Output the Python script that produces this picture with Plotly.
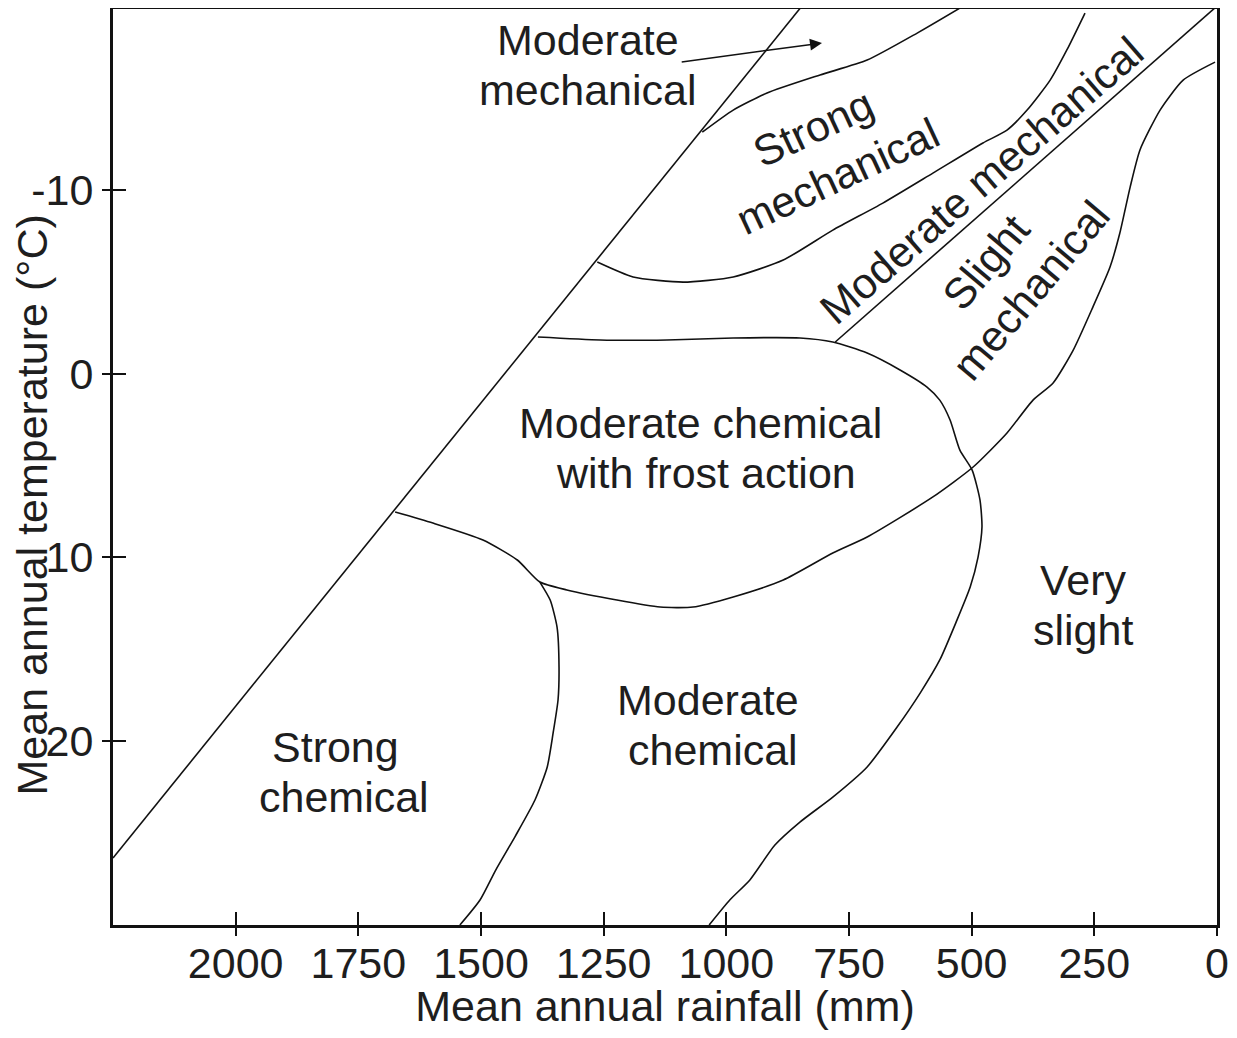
import plotly.graph_objects as go

# ---- data (rainfall mm, temperature °C) ----
diag_rain = [2250, 846]
diag_temp = [26.35, -20.0]

mm_slight_rain = [778, 0]
mm_slight_temp = [-1.72, -20.0]

strong_mech_top_rain = [1049, 986, 917, 809, 713, 611, 524]
strong_mech_top_temp = [-13.14, -14.34, -15.27, -16.25, -17.06, -18.53, -19.89]

strong_mech_bot_rain = [1263, 1190, 1088, 986, 884, 783, 681, 579, 477, 428, 387, 340, 306, 269]
strong_mech_bot_temp = [-6.07, -5.26, -4.98, -5.26, -6.18, -7.81, -9.28, -10.91, -12.55, -13.25, -14.34, -15.97, -17.61, -19.62]

lower_curve_rain = [1675, 1598, 1496, 1426, 1380, 1325, 1223, 1135, 1068, 986, 884, 783, 713,
                    579, 497, 428, 375, 334, 293, 253, 218, 198, 177, 157, 116, 69, 4]
lower_curve_temp = [7.53, 8.13, 9.05, 10.14, 11.34, 11.77, 12.32, 12.70, 12.70, 12.15, 11.23, 9.76, 8.89,
                    6.71, 5.08, 3.23, 1.44, 0.51, -1.28, -3.62, -5.80, -7.65, -10.15, -12.17, -14.34, -15.97, -16.95]

frost_rain = [1384, 1257, 1121, 986, 850, 783, 713, 646, 591, 565, 544, 524, 499, 483, 479, 487, 503,
              530, 565, 605, 652, 713, 783, 850, 901, 952, 993, 1035]
frost_temp = [-1.99, -1.83, -1.83, -1.94, -1.94, -1.72, -1.12, -0.20, 0.73, 1.44, 2.52, 4.16, 5.25, 6.88,
              8.35, 9.98, 11.61, 13.41, 15.58, 17.38, 19.23, 21.40, 23.04, 24.40, 25.65, 27.55, 28.64, 30.0]

chem_rain = [1380, 1359, 1345, 1341, 1343, 1353, 1365, 1390, 1430, 1470, 1502, 1543]
chem_temp = [11.34, 12.32, 13.79, 15.96, 17.76, 19.55, 21.40, 23.20, 25.16, 27.01, 28.64, 30.0]

curves = [
    (diag_rain, diag_temp),
    (mm_slight_rain, mm_slight_temp),
    (strong_mech_top_rain, strong_mech_top_temp),
    (strong_mech_bot_rain, strong_mech_bot_temp),
    (lower_curve_rain, lower_curve_temp),
    (frost_rain, frost_temp),
    (chem_rain, chem_temp),
]

x_ticks = [2000, 1750, 1500, 1250, 1000, 750, 500, 250, 0]
x_ticktext = ["2000", "1750", "1500", "1250", "1000", "750", "500", "250", "0"]
y_ticks = [-10, 0, 10, 20]
y_ticktext = ["-10", "0", "10", "20"]

x_title = "Mean annual rainfall (mm)"
y_title = "Mean annual temperature (°C)"

# one entry per text line
labels = ["Moderate", "mechanical",
          "Strong", "mechanical",
          "Moderate mechanical",
          "Slight", "mechanical",
          "Moderate chemical", "with frost action",
          "Very", "slight",
          "Moderate", "chemical",
          "Strong", "chemical"]
label_rain = [1282, 1282, 823, 772, 479, 471, 379, 1052, 1041, 273, 273, 1037, 1027, 1797, 1779]
label_temp = [-18.15, -15.43, -13.36, -10.75, -10.53, -6.07, -4.55, 2.69, 5.41, 11.23, 13.95,
              17.76, 20.48, 20.32, 23.04]
label_angle = [0, 0, -25, -25, -41, -50, -50, 0, 0, 0, 0, 0, 0, 0, 0]

arrow_tail = (1094, -16.95)
arrow_head = (805, -17.99)

FONT = "Liberation Sans, Arial, sans-serif"
TXT = "#1e1e1e"
FS = 43

fig = go.Figure()
for xs, ys in curves:
    fig.add_trace(go.Scatter(x=xs, y=ys, mode="lines",
                             line=dict(color="#111111", width=1.6, shape="spline", smoothing=0.6),
                             hoverinfo="skip", showlegend=False))
# invisible trace so the overlay axes (inside tick marks) are drawn
fig.add_trace(go.Scatter(x=[0], y=[0], xaxis="x2", yaxis="y2", mode="markers",
                         marker=dict(opacity=0), hoverinfo="skip", showlegend=False))

for t, xr, yt, ang in zip(labels, label_rain, label_temp, label_angle):
    fig.add_annotation(x=xr, y=yt, text=t, showarrow=False, textangle=ang,
                       font=dict(family=FONT, size=FS, color=TXT))

fig.add_annotation(x=arrow_head[0], y=arrow_head[1], ax=arrow_tail[0], ay=arrow_tail[1],
                   xref="x", yref="y", axref="x", ayref="y", text="", showarrow=True,
                   arrowhead=2, arrowsize=1.6, arrowwidth=1.5, arrowcolor="#111111")

# y-axis title (placed as an annotation to sit slightly below the plot centre, as in the original)
fig.add_annotation(x=0, y=0.458, xref="paper", yref="paper", xshift=-81, text=y_title,
                   showarrow=False, textangle=-90, xanchor="center", yanchor="middle",
                   borderpad=0, font=dict(family=FONT, size=FS, color=TXT))

XR = [2250, 0]
YR = [30, -19.84]

fig.update_layout(
    width=1221, height=1022,
    margin=dict(l=105, r=12, t=1, b=105, autoexpand=False),
    paper_bgcolor="white", plot_bgcolor="white",
    font=dict(family=FONT, size=FS, color=TXT),
    xaxis=dict(range=XR, tickvals=x_ticks, ticktext=x_ticktext, ticks="outside", ticklen=8, tickwidth=1.5,
               tickcolor="#111111", showgrid=False, zeroline=False, showline=True, mirror=True,
               linecolor="#111111", linewidth=3, tickfont=dict(size=FS), automargin=False,
               ticklabelstandoff=-10,
               title=dict(text=x_title, font=dict(size=FS), standoff=7)),
    yaxis=dict(range=YR, tickvals=y_ticks, ticktext=y_ticktext, ticks="outside", ticklen=8, tickwidth=1.5,
               tickcolor="#111111", showgrid=False, zeroline=False, showline=True, mirror=True,
               linecolor="#111111", linewidth=3, tickfont=dict(size=FS), automargin=False),
    xaxis2=dict(range=XR, tickvals=x_ticks, ticks="inside", ticklen=13, tickwidth=1.5,
                tickcolor="#111111", showticklabels=False, showgrid=False, zeroline=False,
                showline=False, overlaying="x", anchor="y2", side="bottom", automargin=False),
    yaxis2=dict(range=YR, tickvals=y_ticks, ticks="inside", ticklen=13, tickwidth=1.5,
                tickcolor="#111111", showticklabels=False, showgrid=False, zeroline=False,
                showline=False, overlaying="y", anchor="x2", side="left", automargin=False),
)

fig.write_html("out.html")
